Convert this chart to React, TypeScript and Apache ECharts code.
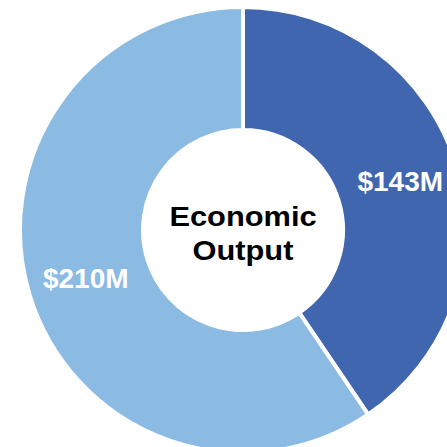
import React, { useEffect, useRef } from "react";
import * as echarts from "echarts";

const categories = ["Segment A", "Segment B"];
const values = [143, 210];
const colors = ["#4066B0", "#8BBAE3"];
const centerLines = ["Economic", "Output"];

export default function App() {
  const ref = useRef<HTMLDivElement>(null);
  useEffect(() => {
    if (!ref.current) return;
    const chart = echarts.init(ref.current, null, { renderer: "svg" });
    chart.setOption({
      animation: false,
      backgroundColor: "#ffffff",
      graphic: [
        {
          type: "text",
          x: 243,
          y: 233,
          scaleX: 1.1,
          style: {
            text: centerLines.join("\n"),
            fontSize: 28,
            fontWeight: "bold",
            fontFamily: "Liberation Sans, Arial, sans-serif",
            fill: "#000000",
            align: "center",
            verticalAlign: "middle",
            lineHeight: 34,
          },
        },
      ],
      series: [
        {
          type: "pie",
          center: [243, 230],
          radius: [100, 223],
          startAngle: 90,
          clockwise: true,
          silent: true,
          itemStyle: { borderColor: "#ffffff", borderWidth: 4 },
          label: {
            show: true,
            position: "inside",
            formatter: (p: any) => `$${p.value}M`,
            color: "#ffffff",
            fontSize: 28,
            fontWeight: "bold",
            fontFamily: "Liberation Sans, Arial, sans-serif",
          },
          labelLine: { show: false },
          data: categories.map((c, i) => ({
            name: c,
            value: values[i],
            itemStyle: { color: colors[i] },
          })),
        },
      ],
    });
    return () => chart.dispose();
  }, []);
  return (
    <div
      ref={ref}
      style={{ position: "absolute", left: 0, top: 0, width: 447, height: 447 }}
    />
  );
}
